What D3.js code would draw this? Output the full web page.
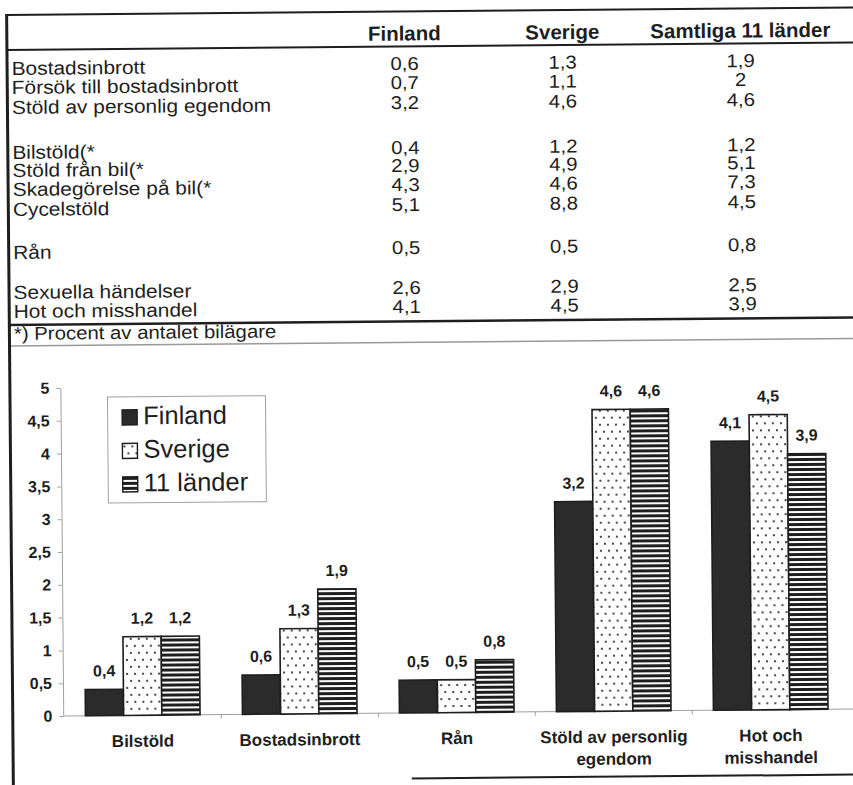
<!DOCTYPE html>
<html>
<head>
<meta charset="utf-8">
<script src="https://cdn.jsdelivr.net/npm/d3@7"></script>
<style>
  body { margin: 0; background: #fff; }
  svg { display: block; font-family: "Liberation Sans", Arial, Helvetica, sans-serif; }
</style>
</head>
<body>
<svg id="chart"></svg>
<script>
// ---- table data ----
const tableCols = ["Finland", "Sverige", "Samtliga 11 länder"];
const tableRows = ["Bostadsinbrott", "Försök till bostadsinbrott", "Stöld av personlig egendom",
  "Bilstöld(*", "Stöld från bil(*", "Skadegörelse på bil(*", "Cycelstöld",
  "Rån", "Sexuella händelser", "Hot och misshandel"];
const tabFinland = [0.6, 0.7, 3.2, 0.4, 2.9, 4.3, 5.1, 0.5, 2.6, 4.1];
const tabSverige = [1.3, 1.1, 4.6, 1.2, 4.9, 4.6, 8.8, 0.5, 2.9, 4.5];
const tabAll = [1.9, 2, 4.6, 1.2, 5.1, 7.3, 4.5, 0.8, 2.5, 3.9];
const footnote = "*) Procent av antalet bilägare";

// ---- chart data ----
const categories = ["Bilstöld", "Bostadsinbrott", "Rån", "Stöld av personlig egendom", "Hot och misshandel"];
const categoryLines = [["Bilstöld"], ["Bostadsinbrott"], ["Rån"], ["Stöld av personlig", "egendom"], ["Hot och", "misshandel"]];
const seriesNames = ["Finland", "Sverige", "11 länder"];
const finland = [0.4, 0.6, 0.5, 3.2, 4.1];
const sverige = [1.2, 1.3, 0.5, 4.6, 4.5];
const lander11 = [1.2, 1.9, 0.8, 4.6, 3.9];
const yTicks = [0, 0.5, 1, 1.5, 2, 2.5, 3, 3.5, 4, 4.5, 5];

// layout
const width = 853, height = 785;
const ink = "#1e1e1e";
const colX = [404, 562, 740];
const rowY = [75, 94, 114, 159, 177, 196, 216, 259, 299, 318];
const stretch = 1.1; // the scan is a bit wider than the font
const fmt = v => String(v).replace(".", ",");

const svg = d3.select("#chart").attr("width", width).attr("height", height);

// the scanned page is a little tilted
const root = svg.append("g").attr("transform", "rotate(-0.5)");

// patterns for the bars
const defs = svg.append("defs");
const dots = defs.append("pattern").attr("id", "dots")
  .attr("patternUnits", "userSpaceOnUse").attr("width", 8).attr("height", 14);
dots.append("rect").attr("width", 8).attr("height", 14).attr("fill", "#fff");
dots.append("circle").attr("cx", 2).attr("cy", 3).attr("r", 1.1).attr("fill", ink);
dots.append("circle").attr("cx", 6).attr("cy", 10).attr("r", 1.1).attr("fill", ink);

const stripes = defs.append("pattern").attr("id", "stripes")
  .attr("patternUnits", "userSpaceOnUse").attr("width", 8).attr("height", 5);
stripes.append("rect").attr("width", 8).attr("height", 5).attr("fill", "#fff");
stripes.append("rect").attr("width", 8).attr("height", 3).attr("fill", ink);

const fills = { "Finland": "#2b2b2b", "Sverige": "url(#dots)", "11 länder": "url(#stripes)" };

// ---- table ----
const hline = (y, x1, x2, color, w) => root.append("line")
  .attr("x1", x1).attr("x2", x2).attr("y1", y).attr("y2", y)
  .attr("stroke", color).attr("stroke-width", w);

hline(15, 6, 880, ink, 2);
hline(50, 6, 880, ink, 2);
hline(325, 6, 880, ink, 2.5);
hline(346, 6, 880, "#999", 1.5);
hline(782, 405, 880, ink, 2);

root.append("line")
  .attr("x1", 6.5).attr("x2", 6.5).attr("y1", 14).attr("y2", 800)
  .attr("stroke", ink).attr("stroke-width", 3);

root.selectAll(".col-head")
  .data(tableCols)
  .enter()
  .append("text")
  .attr("class", "col-head")
  .attr("x", (d, i) => colX[i])
  .attr("y", 44)
  .attr("text-anchor", "middle")
  .style("font-size", "20.5px")
  .style("font-weight", "bold")
  .attr("fill", ink)
  .text(d => d);

const rows = root.selectAll(".row")
  .data(tableRows)
  .enter()
  .append("g")
  .attr("class", "row")
  .attr("transform", (d, i) => `translate(0, ${rowY[i]})`);

rows.append("text")
  .attr("transform", `translate(11, 0) scale(${stretch}, 1)`)
  .style("font-size", "19px")
  .attr("fill", ink)
  .text(d => d);

[tabFinland, tabSverige, tabAll].forEach((col, c) => {
  rows.append("text")
    .attr("transform", `translate(${colX[c]}, -1.5) scale(${stretch}, 1)`)
    .attr("text-anchor", "middle")
    .style("font-size", "18.5px")
    .attr("fill", ink)
    .text((d, i) => fmt(col[i]));
});

root.append("text")
  .attr("transform", `translate(11, 340) scale(${stretch}, 1)`)
  .style("font-size", "18.5px")
  .attr("fill", ink)
  .text(footnote);

// ---- bar chart ----
const x0 = d3.scaleBand()
  .domain(categories)
  .range([58, 843])
  .paddingInner(0.27)
  .paddingOuter(0.135);

const x1 = d3.scaleBand()
  .domain(seriesNames)
  .range([0, x0.bandwidth()]);

const y = d3.scaleLinear()
  .domain([0, 5])
  .range([716.5, 388.5]);

const chart = root.append("g");

// y axis
const yAxis = d3.axisLeft(y)
  .tickValues(yTicks)
  .tickSize(4)
  .tickSizeOuter(0)
  .tickPadding(7)
  .tickFormat(fmt);

const yg = chart.append("g").attr("transform", "translate(57, 0)").call(yAxis);
yg.select(".domain").attr("stroke", "#a0a0a0");
yg.selectAll(".tick line").attr("stroke", "#a0a0a0");
yg.selectAll(".tick text")
  .attr("fill", ink)
  .style("font-size", "16px")
  .style("font-weight", "bold")
  .style("font-family", "'Liberation Sans', Arial, sans-serif");

// x axis line with ticks between the groups
chart.append("line")
  .attr("x1", 57).attr("x2", 870)
  .attr("y1", y(0)).attr("y2", y(0))
  .attr("stroke", "#a0a0a0").attr("stroke-width", 1);

const gap = x0.step() - x0.bandwidth();
chart.selectAll(".xtick")
  .data(categories.slice(0, -1))
  .enter()
  .append("line")
  .attr("class", "xtick")
  .attr("x1", d => x0(d) + x0.bandwidth() + gap / 2)
  .attr("x2", d => x0(d) + x0.bandwidth() + gap / 2)
  .attr("y1", y(0))
  .attr("y2", y(0) + 4)
  .attr("stroke", "#a0a0a0");

// bars
const seriesValues = [finland, sverige, lander11];
const barData = categories.map((c, i) => ({
  category: c,
  values: seriesNames.map((s, j) => ({ series: s, value: seriesValues[j][i] }))
}));

const groups = chart.selectAll(".group")
  .data(barData)
  .enter()
  .append("g")
  .attr("class", "group")
  .attr("transform", d => `translate(${x0(d.category)}, 0)`);

groups.selectAll("rect")
  .data(d => d.values)
  .enter()
  .append("rect")
  .attr("x", d => x1(d.series))
  .attr("y", d => y(d.value))
  .attr("width", x1.bandwidth())
  .attr("height", d => y(0) - y(d.value))
  .attr("fill", d => fills[d.series])
  .attr("stroke", ink)
  .attr("stroke-width", 1.6);

groups.selectAll(".val")
  .data(d => d.values)
  .enter()
  .append("text")
  .attr("class", "val")
  .attr("x", d => x1(d.series) + x1.bandwidth() / 2)
  .attr("y", d => y(d.value) - 13)
  .attr("text-anchor", "middle")
  .style("font-size", "16px")
  .style("font-weight", "bold")
  .attr("fill", ink)
  .text(d => fmt(d.value));

// category labels
chart.selectAll(".cat")
  .data(categories)
  .enter()
  .append("text")
  .attr("class", "cat")
  .attr("x", d => x0(d) + x0.bandwidth() / 2)
  .attr("y", 748)
  .attr("text-anchor", "middle")
  .style("font-size", "17px")
  .style("font-weight", "bold")
  .attr("fill", ink)
  .selectAll("tspan")
  .data((d, i) => categoryLines[i])
  .enter()
  .append("tspan")
  .attr("x", function() { return d3.select(this.parentNode).attr("x"); })
  .attr("dy", (d, i) => i === 0 ? 0 : 22)
  .text(d => d);

// legend
const legend = chart.append("g").attr("transform", "translate(104, 398)");
legend.append("rect")
  .attr("width", 158).attr("height", 106)
  .attr("fill", "#fff").attr("stroke", "#a0a0a0");

const items = legend.selectAll(".item")
  .data(seriesNames)
  .enter()
  .append("g")
  .attr("class", "item")
  .attr("transform", (d, i) => `translate(14.5, ${13 + i * 33.5})`);

items.append("rect")
  .attr("width", 15).attr("height", 15)
  .attr("fill", d => fills[d])
  .attr("stroke", ink).attr("stroke-width", 1.4);

items.append("text")
  .attr("x", 21)
  .attr("y", 14.5)
  .style("font-size", "25.5px")
  .attr("fill", ink)
  .text(d => d);
</script>
</body>
</html>
